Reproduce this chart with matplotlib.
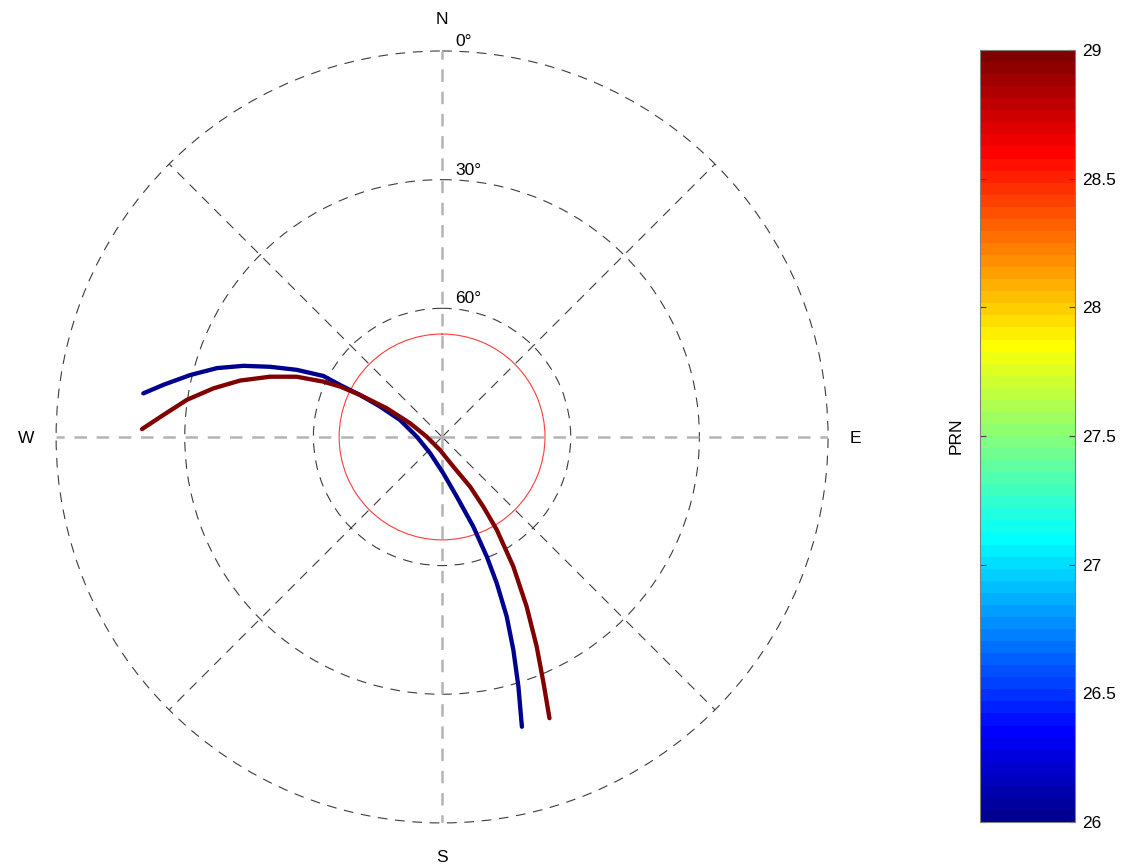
import numpy as np
import matplotlib.pyplot as plt
from matplotlib import cm, colors

plt.rcParams['font.family'] = ['Liberation Sans', 'DejaVu Sans']
plt.rcParams['lines.scale_dashes'] = False

# satellite tracks: azimuth (deg, clockwise from N) and elevation (deg)
prn = [26, 29]
az_26 = [278.3, 280.6, 283.8, 287.0, 289.7, 292.2, 294.8, 297.2, 297.0, 297.1,
         296.1, 292.0, 270.7, 216.4, 178.0, 166.2, 160.8, 159.5, 159.5, 160.2,
         161.5, 163.0, 164.6]
el_26 = [19.6, 23.9, 29.5, 35.1, 40.8, 46.7, 52.7, 58.9, 63.3, 68.5,
         73.9, 79.4, 84.1, 85.3, 81.5, 75.7, 67.9, 60.2, 53.6, 45.5,
         37.6, 29.1, 19.9]
az_29 = [271.5, 274.5, 278.3, 282.0, 285.6, 289.3, 292.5, 295.0, 296.3, 297.1,
         297.4, 293.2, 271.1, 188.8, 159.2, 150.6, 149.4, 149.5, 151.2, 153.5,
         155.7, 157.6, 159.1]
el_29 = [20.0, 24.8, 29.9, 35.5, 41.1, 47.5, 53.3, 59.5, 63.5, 68.5,
         75.5, 81.9, 86.4, 86.9, 82.6, 76.7, 71.1, 64.8, 55.5, 45.8,
         36.4, 27.9, 19.8]

mask_el = 66  # red circle

ring_el = [0, 30, 60]
ring_labels = ['0°', '30°', '60°']
diag_az = [45, 135, 225, 315]
axis_az = [0, 90, 180, 270]
compass = ['N', 'E', 'S', 'W']
compass_r = [97.6, 96.3, 97.6, 97.1]

cbar_ticks = [26, 26.5, 27, 27.5, 28, 28.5, 29]
cbar_labels = ['26', '26.5', '27', '27.5', '28', '28.5', '29']

# MATLAB-style jet(64)
n, m = 64, 16
u = np.concatenate([np.arange(1, m + 1) / m, np.ones(m - 1), np.arange(m, 0, -1) / m])
g = 8 + np.arange(1, len(u) + 1)
r, b = g + m, g - m
jet = np.zeros((n, 3))
jet[r[r <= n] - 1, 0] = u[r <= n]
jet[g[g <= n] - 1, 1] = u[g <= n]
jet[b[b >= 1] - 1, 2] = u[b >= 1]
cmap = colors.ListedColormap(jet)
norm = colors.Normalize(vmin=26, vmax=29)

fig = plt.figure(figsize=(11.22, 8.65), dpi=100)
ax = fig.add_axes([0.050, 0.0486, 0.688, 0.8925], projection='polar')
ax.set_theta_zero_location('N')
ax.set_theta_direction(-1)
ax.set_rlim(0, 90)
ax.grid(False)
ax.set_xticks([])
ax.set_yticks([])
ax.spines['polar'].set_visible(False)

dark = '#3c3c3c'
for el in ring_el:
    ax.axhline(90 - el, color=dark, lw=0.8, dashes=(7, 5.5), clip_on=False, zorder=1)
for a in diag_az:
    ax.axvline(np.deg2rad(a), color=dark, lw=0.8, dashes=(7, 5.5), zorder=1)
for a in axis_az:
    ax.axvline(np.deg2rad(a), color='#b4b4b4', lw=1.8, dashes=(9, 7), zorder=1)

for el, lab in zip(ring_el, ring_labels):
    ax.annotate(lab, xy=(0, 90 - el), xytext=(9.4, 3.6), textcoords='offset points',
                ha='left', va='baseline', fontsize=12.5, annotation_clip=False)
for a, lab, rr in zip(axis_az, compass, compass_r):
    ax.text(np.deg2rad(a), rr, lab, ha='center', va='center_baseline', fontsize=12.5)

# elevation mask
ax.axhline(90 - mask_el, color='#ff3c3c', lw=0.8, zorder=2)

tracks = [(az_26, el_26), (az_29, el_29)]
for p, (az, el) in zip(prn, tracks):
    ax.plot(np.deg2rad(az), 90 - np.array(el), color=cmap(norm(p)), lw=3.1,
            solid_capstyle='round', solid_joinstyle='round', zorder=3)

cax = fig.add_axes([0.8734, 0.0497, 0.0847, 0.8925])
sm = cm.ScalarMappable(norm=norm, cmap=cmap)
cb = fig.colorbar(sm, cax=cax)
cb.set_ticks(cbar_ticks)
cb.set_ticklabels(cbar_labels)
cax.tick_params(direction='in', length=4, width=0.8, left=True, right=True,
                labelsize=12.5, color='#404040', pad=5)
cb.outline.set_edgecolor('#808080')
cb.outline.set_linewidth(0.8)
cb.set_label('PRN', fontsize=12.5, labelpad=12)
cax.yaxis.set_label_position('left')

fig.savefig('out.png', dpi=100)
